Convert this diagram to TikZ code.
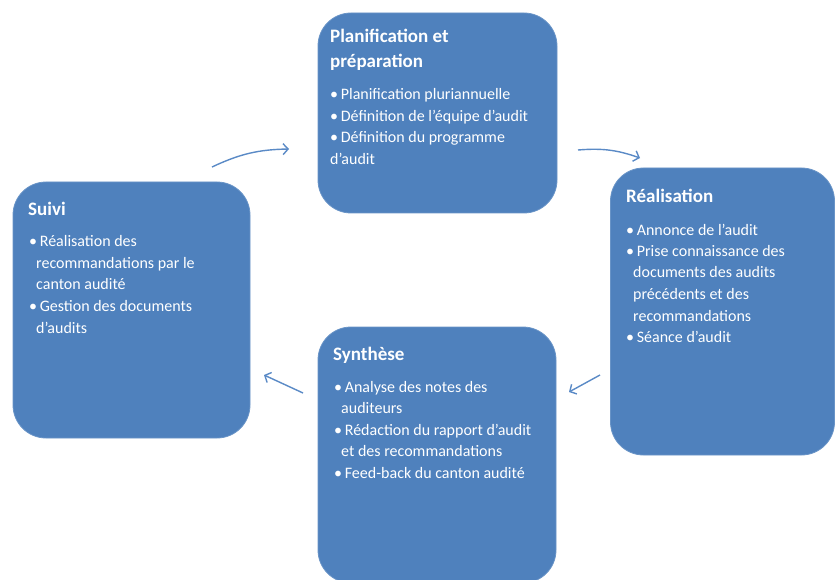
\documentclass[tikz,border=0pt]{standalone}
\usepackage{fontspec}
\setmainfont{Carlito}
\usetikzlibrary{arrows.meta}
\definecolor{boxblue}{HTML}{4F81BD}
\definecolor{arrowblue}{HTML}{5A8AC6}
\begin{document}
\begin{tikzpicture}[x=1pt,y=-1pt,
  phase/.style={rectangle, rounded corners=33pt, fill=boxblue, draw=boxblue!85!white, line width=0.8pt, inner sep=0pt},
  ttl/.style={anchor=base west, inner sep=0pt, text=white},
  bul/.style={anchor=base west, inner sep=0pt, text=white},
  flow/.style={draw=arrowblue, line width=1.4pt, -{Straight Barb[length=5pt,width=11pt,line width=1.4pt]}}
]
\useasboundingbox (0,0) rectangle (835,580);
\newcommand{\ttltext}[1]{\parbox[t]{230pt}{\fontsize{19}{25}\selectfont\bfseries\raggedright #1}}
\newcommand{\bultext}[1]{\parbox[t]{215pt}{\fontsize{16}{21.5}\selectfont\raggedright #1}}
\newcommand{\ind}{\hspace*{7pt}}

% boxes
\node[phase, minimum width=239pt, minimum height=200pt] (plan) at (437.5,113) {};
\node[phase, minimum width=224pt, minimum height=287pt] (real) at (722.5,311.5) {};
\node[phase, minimum width=237pt, minimum height=256pt] (suivi) at (131.5,310) {};
\node[phase, minimum width=238pt, minimum height=256pt] (synth) at (437,455) {};

% texts
\node[ttl] (planT) at (330,43) {\ttltext{Planification et\\préparation}};
\node[bul] (planB) at (330,100) {\bultext{•\,Planification pluriannuelle\\•\,Définition de l’équipe d’audit\\•\,Définition du programme\\d’audit}};

\node[ttl] (realT) at (626,203) {\ttltext{Réalisation}};
\node[bul] (realB) at (626,235) {\bultext{•\,Annonce de l’audit\\•\,Prise connaissance des\\\ind documents des audits\\\ind précédents et des\\\ind recommandations\\•\,Séance d’audit}};

\node[ttl] (suiviT) at (28,215) {\ttltext{Suivi}};
\node[bul] (suiviB) at (29,247) {\bultext{•\,Réalisation des\\\ind recommandations par le\\\ind canton audité\\•\,Gestion des documents\\\ind d’audits}};

\node[ttl] (synthT) at (333,360) {\ttltext{Synthèse}};
\node[bul] (synthB) at (334,392) {\bultext{•\,Analyse des notes des\\\ind auditeurs\\•\,Rédaction du rapport d’audit\\\ind et des recommandations\\•\,Feed-back du canton audité}};

% arrows
\coordinate (a1s) at (212,167);
\coordinate (a1e) at (289,149);
\coordinate (a2s) at (578,150);
\coordinate (a2e) at (640,158);
\coordinate (a3s) at (600,375);
\coordinate (a3e) at (569,392);
\coordinate (a4s) at (303,393);
\coordinate (a4e) at (264,375);
\draw[flow] (a1s) to[bend left=12] (a1e);
\draw[flow] (a2s) to[bend left=12] (a2e);
\draw[flow] (a3s) -- (a3e);
\draw[flow] (a4s) -- (a4e);
\end{tikzpicture}
\end{document}
